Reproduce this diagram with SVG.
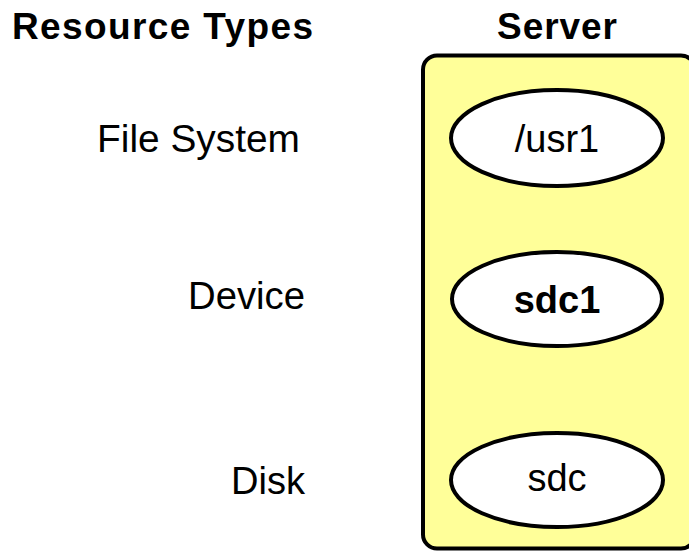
<svg xmlns="http://www.w3.org/2000/svg" width="689" height="552" viewBox="0 0 689 552">
<style>
.hdr{font-family:"Liberation Sans",Arial,sans-serif;font-weight:bold;font-size:37px;fill:#000}
.lbl{font-family:"Liberation Sans",Arial,sans-serif;font-size:39px;fill:#000}
.nt{font-family:"Liberation Sans",Arial,sans-serif;font-size:38px;fill:#000;text-anchor:middle}
.node ellipse{fill:#fff;stroke:#000;stroke-width:4}
</style>
<rect width="689" height="552" fill="#fff"/>
<text class="hdr" x="12" y="39" textLength="301" lengthAdjust="spacing">Resource Types</text>
<text class="hdr" x="497" y="39" textLength="120" lengthAdjust="spacing">Server</text>
<text class="lbl" x="97" y="152" textLength="203" lengthAdjust="spacingAndGlyphs">File System</text>
<text class="lbl" x="188" y="309" textLength="117" lengthAdjust="spacingAndGlyphs">Device</text>
<text class="lbl" x="231" y="494" textLength="74" lengthAdjust="spacingAndGlyphs">Disk</text>
<g id="server">
<rect x="423" y="55.5" width="272" height="493" rx="14" fill="#ffff99" stroke="#000" stroke-width="4"/>
</g>
<g id="usr1" class="node">
<ellipse cx="557" cy="138" rx="106" ry="48"/>
<text class="nt" x="557" y="152">/usr1</text>
</g>
<g id="sdc1" class="node">
<ellipse cx="557" cy="299" rx="105" ry="47"/>
<text class="nt" x="557" y="313" font-weight="bold">sdc1</text>
</g>
<g id="sdc" class="node">
<ellipse cx="557" cy="480" rx="106" ry="47"/>
<text class="nt" x="557" y="491">sdc</text>
</g>
<g id="connectors"></g>
</svg>
